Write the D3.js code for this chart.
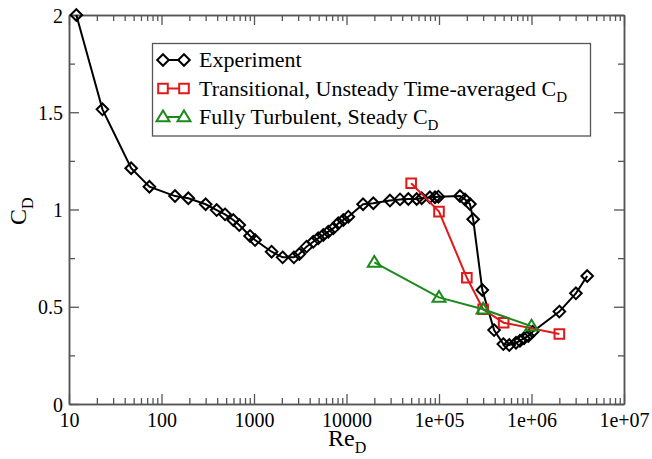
<!DOCTYPE html>
<html>
<head>
<meta charset="utf-8">
<script src="https://cdn.jsdelivr.net/npm/d3@7"></script>
<style>
  body { margin: 0; background: #fff; }
  svg { display: block; font-family: "Liberation Serif", "DejaVu Serif", serif; }
</style>
</head>
<body>
<div id="chart"></div>
<script>
// experiment data (Re_D, C_D)
var expRe = [12, 23, 47, 74, 140, 195, 300, 395, 486, 597, 693, 906, 1026, 1550, 2040, 2700, 3090, 3700, 4370, 4950, 5610, 6360, 7200, 8150, 9240, 10470, 15100, 19500, 29500, 37900, 46600, 57400, 65000, 79700, 90600, 98500, 168500, 191000, 216000, 234000, 294000, 394000, 496000, 575000, 680000, 751000, 830000, 923000, 1030000, 2000000, 3020000, 4000000];
var expCd = [2.0, 1.515, 1.212, 1.117, 1.069, 1.058, 1.027, 0.997, 0.975, 0.946, 0.92, 0.864, 0.843, 0.783, 0.754, 0.754, 0.771, 0.809, 0.834, 0.852, 0.869, 0.886, 0.903, 0.929, 0.946, 0.963, 1.027, 1.032, 1.046, 1.052, 1.054, 1.054, 1.058, 1.063, 1.063, 1.066, 1.069, 1.052, 1.028, 0.95, 0.586, 0.38, 0.308, 0.303, 0.315, 0.325, 0.338, 0.35, 0.372, 0.475, 0.569, 0.658];

// transitional, unsteady time-averaged
var tranRe = [5e4, 1e5, 2e5, 3e5, 5e5, 2e6];
var tranCd = [1.135, 0.989, 0.649, 0.487, 0.418, 0.36];

// fully turbulent, steady
var turbRe = [2e4, 1e5, 3e5, 1e6];
var turbCd = [0.728, 0.548, 0.487, 0.40];

var xTicks = [10, 100, 1000, 10000, 1e5, 1e6, 1e7];
var xTickLabels = ["10", "100", "1000", "10000", "1e+05", "1e+06", "1e+07"];
var yTicks = [0, 0.5, 1, 1.5, 2];
var yTickLabels = ["0", "0.5", "1", "1.5", "2"];

var W = 652, H = 459;
var pLeft = 69, pRight = 624, pTop = 15, pBottom = 404;

var svg = d3.select("#chart").append("svg")
    .attr("width", W)
    .attr("height", H);

var x = d3.scaleLog().domain([10, 1e7]).range([pLeft, pRight]);
var y = d3.scaleLinear().domain([0, 2]).range([pBottom, pTop]);

// minor ticks
var xMinor = [];
for (var d = 10; d < 1e7; d *= 10) {
  for (var k = 2; k <= 9; k++) xMinor.push(d * k);
}
var yMinor = [0.25, 0.75, 1.25, 1.75];

var axisColor = "#555";

// bottom axis
var gb = svg.append("g").attr("transform", "translate(0," + pBottom + ")");
gb.call(d3.axisBottom(x).tickValues(xTicks).tickSizeInner(-10).tickSizeOuter(0).tickFormat(function (d, i) { return xTickLabels[i]; }));
gb.append("g").call(d3.axisBottom(x).tickValues(xMinor).tickSizeInner(-6).tickSizeOuter(0).tickFormat(""));

// top axis
var gt = svg.append("g").attr("transform", "translate(0," + pTop + ")");
gt.call(d3.axisTop(x).tickValues(xTicks).tickSizeInner(-10).tickSizeOuter(0).tickFormat(""));
gt.append("g").call(d3.axisTop(x).tickValues(xMinor).tickSizeInner(-6).tickSizeOuter(0).tickFormat(""));

// left axis
var gl = svg.append("g").attr("transform", "translate(" + pLeft + ",0)");
gl.call(d3.axisLeft(y).tickValues(yTicks).tickSizeInner(-10).tickSizeOuter(0).tickFormat(function (d, i) { return yTickLabels[i]; }));
gl.append("g").call(d3.axisLeft(y).tickValues(yMinor).tickSizeInner(-6).tickSizeOuter(0).tickFormat(""));

// right axis
var gr = svg.append("g").attr("transform", "translate(" + pRight + ",0)");
gr.call(d3.axisRight(y).tickValues(yTicks).tickSizeInner(-10).tickSizeOuter(0).tickFormat(""));
gr.append("g").call(d3.axisRight(y).tickValues(yMinor).tickSizeInner(-6).tickSizeOuter(0).tickFormat(""));

svg.selectAll(".domain").attr("stroke", axisColor).attr("stroke-width", 1.5);
svg.selectAll(".tick line").attr("stroke", axisColor).attr("stroke-width", 1.3);
svg.selectAll(".tick text")
    .attr("font-family", "Liberation Serif")
    .attr("font-size", "20px")
    .attr("fill", "#000");
gb.selectAll(".tick text").attr("dy", null).attr("y", 23);
gl.selectAll(".tick text").attr("x", -6).attr("dy", "0.35em");

// symbols
function diamond(s) { return "M0," + (-s) + "L" + s + ",0L0," + s + "L" + (-s) + ",0Z"; }
function square(s) { return "M" + (-s) + "," + (-s) + "h" + (2 * s) + "v" + (2 * s) + "h" + (-2 * s) + "Z"; }
function triangle(s) { return "M0," + (-s * 1.05) + "L" + (s * 1.05) + "," + (s * 0.7) + "L" + (-s * 1.05) + "," + (s * 0.7) + "Z"; }

var series = [
  { re: expRe, cd: expCd, color: "#000", sym: diamond(5.8), name: "Experiment" },
  { re: tranRe, cd: tranCd, color: "#e0191b", sym: square(4.8), name: "Transitional, Unsteady Time-averaged C", sub: "D" },
  { re: turbRe, cd: turbCd, color: "#1a8a1a", sym: triangle(6.2), name: "Fully Turbulent, Steady C", sub: "D" }
];

var line = d3.line()
  .x(function (d) { return x(d[0]); })
  .y(function (d) { return y(d[1]); });

series.forEach(function (s) {
  var pts = s.re.map(function (r, i) { return [r, s.cd[i]]; });
  svg.append("path")
    .datum(pts)
    .attr("d", line)
    .attr("fill", "none")
    .attr("stroke", s.color)
    .attr("stroke-width", 2);
  svg.append("g").selectAll("path")
    .data(pts)
    .enter().append("path")
      .attr("d", s.sym)
      .attr("transform", function (d) { return "translate(" + x(d[0]) + "," + y(d[1]) + ")"; })
      .attr("fill", "none")
      .attr("stroke", s.color)
      .attr("stroke-width", 2);
});

// legend
var lg = svg.append("g");
lg.append("rect")
  .attr("x", 152.5).attr("y", 43.5)
  .attr("width", 438).attr("height", 92.5)
  .attr("fill", "#fff")
  .attr("stroke", axisColor)
  .attr("stroke-width", 1.3);

series.forEach(function (s, i) {
  var yy = 60 + i * 28.5;
  lg.append("line")
    .attr("x1", 163).attr("x2", 184)
    .attr("y1", yy).attr("y2", yy)
    .attr("stroke", s.color).attr("stroke-width", 2);
  [163, 184].forEach(function (xx) {
    lg.append("path")
      .attr("d", s.sym)
      .attr("transform", "translate(" + xx + "," + yy + ")")
      .attr("fill", "#fff")
      .attr("stroke", s.color)
      .attr("stroke-width", 2);
  });
  var t = lg.append("text")
    .attr("x", 199).attr("y", yy + 7)
    .attr("font-size", "22px")
    .attr("fill", "#000")
    .text(s.name);
  if (s.sub) {
    t.append("tspan").attr("font-size", "15px").attr("dy", 6).text(s.sub);
  }
});

// axis labels
var xl = svg.append("text")
  .attr("x", 328).attr("y", 446)
  .attr("font-size", "24px")
  .text("Re");
xl.append("tspan").attr("font-size", "16px").attr("dy", 7).text("D");

var yl = svg.append("text")
  .attr("transform", "translate(26,225) rotate(-90)")
  .attr("font-size", "24px")
  .text("C");
yl.append("tspan").attr("font-size", "16px").attr("dy", 7).text("D");
</script>
</body>
</html>
